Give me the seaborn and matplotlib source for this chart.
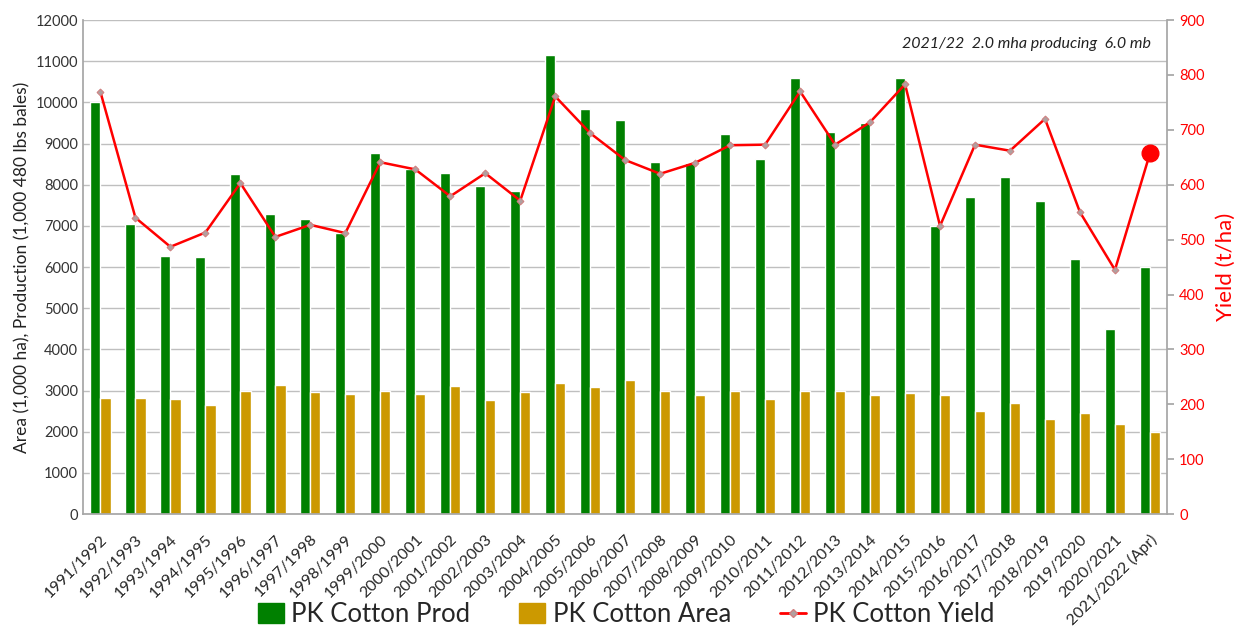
import pandas as pd
import matplotlib.pyplot as plt
import seaborn as sns
import numpy as np
from matplotlib.patches import Patch
from matplotlib.lines import Line2D

# Season labels and values
seasons = ['1991/1992', '1992/1993', '1993/1994', '1994/1995', '1995/1996', '1996/1997',
           '1997/1998', '1998/1999', '1999/2000', '2000/2001', '2001/2002', '2002/2003',
           '2003/2004', '2004/2005', '2005/2006', '2006/2007', '2007/2008', '2008/2009',
           '2009/2010', '2010/2011', '2011/2012', '2012/2013', '2013/2014', '2014/2015',
           '2015/2016', '2016/2017', '2017/2018', '2018/2019', '2019/2020', '2020/2021',
           '2021/2022 (Apr)']
prod = [10000, 7050, 6280, 6250, 8270, 7300, 7160, 6840, 8780, 8380, 8280, 7960,
        7840, 11140, 9850, 9580, 8550, 8530, 9240, 8630, 10600, 9290, 9500, 10600,
        7000, 7700, 8200, 7600, 6200, 4500, 6000]
area = [2830, 2830, 2800, 2640, 3000, 3140, 2960, 2910, 2980, 2930, 3110, 2780,
        2970, 3180, 3090, 3250, 3000, 2900, 3000, 2800, 3000, 3000, 2900, 2950,
        2900, 2500, 2690, 2300, 2450, 2200, 2000]
yld = [769, 540, 487, 513, 603, 505, 527, 512, 641, 628, 579, 621,
       571, 761, 694, 645, 620, 640, 672, 673, 770, 673, 714, 783,
       525, 673, 662, 720, 550, 445, 657]

sns.set_theme(style='white')
plt.rcParams['font.family'] = ['Lato', 'DejaVu Sans']

df = pd.DataFrame({'season': seasons, 'PK Cotton Prod': prod, 'PK Cotton Area': area})
df_long = df.melt(id_vars='season', var_name='series', value_name='value')

green = '#008000'
gold = '#CC9900'

fig = plt.figure(figsize=(12.38, 6.27), dpi=100)
ax = fig.add_axes([0.067, 0.180, 0.876, 0.788])

sns.barplot(data=df_long, x='season', y='value', hue='series', order=seasons,
            palette=[green, gold], width=0.58, saturation=1, ax=ax, legend=False)

ax.set_ylim(0, 12000)
ax.set_yticks(np.arange(0, 12001, 1000))
ax.set_xlim(-0.5, len(seasons) - 0.5)
ax.yaxis.grid(True, color='#BFBFBF', linewidth=1)
ax.set_axisbelow(True)
ax.set_xlabel('')
ax.set_ylabel('Area (1,000 ha), Production (1,000 480 lbs bales)', fontsize=12.5, color='#222222')
ax.set_xticks(range(len(seasons)))
ax.set_xticklabels(seasons, rotation=45, ha='right', rotation_mode='anchor', fontsize=11.5)
ax.set_xticks(np.arange(-0.5, len(seasons), 1), minor=True)
ax.tick_params(axis='x', which='major', length=0, pad=13)
ax.tick_params(axis='x', which='minor', length=5, color='#A6A6A6', direction='out')
ax.tick_params(axis='y', labelsize=10.5, labelcolor='#333333', length=0)
for side in ['top', 'right']:
    ax.spines[side].set_visible(False)
for side in ['left', 'bottom']:
    ax.spines[side].set_color('#A6A6A6')

# yield on the secondary axis
ax2 = ax.twinx()
x_pos = np.arange(len(seasons))
sns.lineplot(x=x_pos, y=yld, ax=ax2, color='#FF0000',
             linewidth=1.8, marker='D', markersize=3.5, markerfacecolor='#B0A0A0',
             markeredgecolor='#D08080', legend=False)
ax2.plot(x_pos[-1], yld[-1], 'o', color='#FF0000', markersize=12, zorder=5)
ax2.set_ylim(0, 900)
ax2.set_yticks(np.arange(0, 901, 100))
ax2.set_ylabel('Yield (t/ha)', fontsize=16, color='#FF0000', labelpad=8)
ax2.tick_params(axis='y', labelsize=10.5, labelcolor='#FF0000', length=5, color='#A6A6A6', direction='out')
ax2.spines['right'].set_color('#A6A6A6')
for side in ['top', 'left', 'bottom']:
    ax2.spines[side].set_visible(False)
ax2.set_xlim(-0.5, len(seasons) - 0.5)

ax.text(0.985, 0.965, '2021/22  2.0 mha producing  6.0 mb', transform=ax.transAxes,
        ha='right', va='top', fontsize=11.5, style='italic', color='#222222')

handles = [Patch(facecolor=green, edgecolor=green),
           Patch(facecolor=gold, edgecolor=gold),
           Line2D([0], [0], color='#FF0000', linewidth=2, marker='D', markersize=4,
                  markerfacecolor='#B0A0A0', markeredgecolor='#D08080')]
fig.legend(handles, ['PK Cotton Prod', 'PK Cotton Area', 'PK Cotton Yield'],
           loc='center', bbox_to_anchor=(0.506, 0.02), ncol=3, frameon=False,
           fontsize=18.5, handlelength=1.0, handleheight=0.8, columnspacing=1.9, handletextpad=0.3)

fig.savefig('out.png', dpi=100)
